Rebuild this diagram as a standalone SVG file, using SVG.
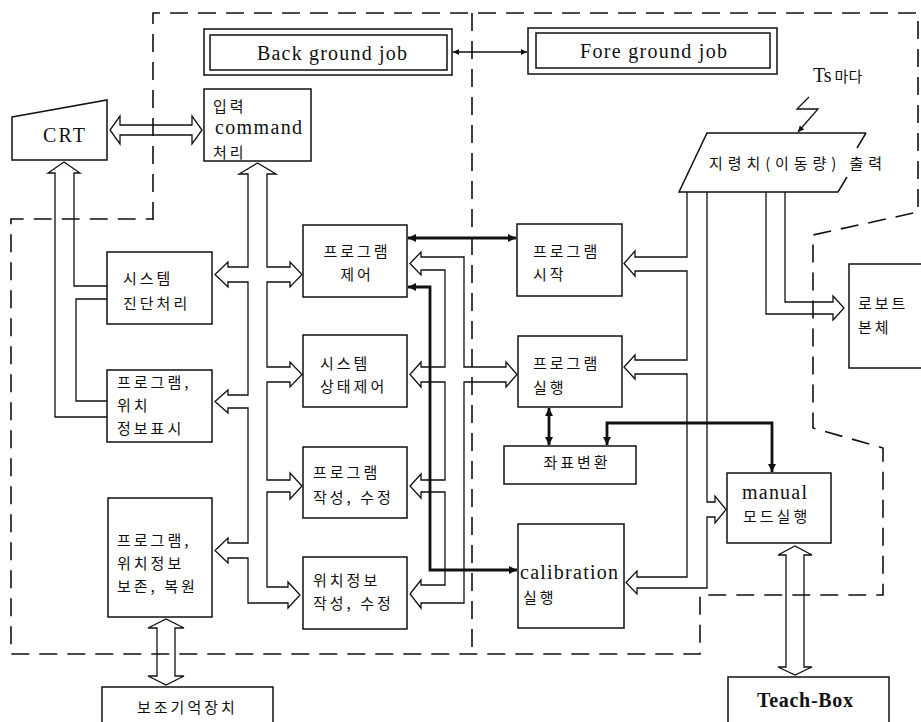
<svg xmlns="http://www.w3.org/2000/svg" width="921" height="722" viewBox="0 0 921 722">
<defs>
<style>
.box{fill:#fff;stroke:#111;stroke-width:1.5}
.nf{fill:none;stroke:#111;stroke-width:1.5}
.pipe{fill:none;stroke:#111;stroke-width:1.3}
.thick{fill:none;stroke:#111;stroke-width:2.8}
.thin{fill:none;stroke:#111;stroke-width:1.3}
.dash{fill:none;stroke:#111;stroke-width:1.6;stroke-dasharray:18 10}
.kr{font-family:"Noto Sans CJK KR",sans-serif;font-size:15px;letter-spacing:3px;fill:#111}
.en{font-family:"Liberation Serif","Noto Sans CJK KR",serif;font-size:20px;fill:#111}
.enb{font-family:"Liberation Serif",serif;font-size:20px;font-weight:bold;fill:#111}
</style>
<marker id="ah" viewBox="0 0 10 10" refX="10" refY="5" markerWidth="11" markerHeight="8" markerUnits="userSpaceOnUse" orient="auto-start-reverse"><path d="M0,0 L10,5 L0,10 Z" fill="#111"/></marker>
<marker id="as" viewBox="0 0 10 10" refX="10" refY="5" markerWidth="8" markerHeight="6" markerUnits="userSpaceOnUse" orient="auto-start-reverse"><path d="M0,0 L10,5 L0,10 Z" fill="#111"/></marker>
</defs>
<rect width="921" height="722" fill="#fff"/>

<g id="regions">
<path class="dash" d="M153,220 V13 H918 V212 L813,235 V428 L883,448 V595 H700 V654 H11 V219 H153"/>
<path class="dash" d="M472,13 V654"/>
</g>

<g id="connectors">
<path class="pipe" d="M276,174 L257.5,163 L239,174 H248 V267 H228 L228,262 L215,274.5 L228,287 V282 H248 V395 H228 L228,390 L215,401.5 L228,413 V408 H248 V543 H228 L228,538 L215,550.5 L228,563 V558 H248 V603 H288 L288,608 L300,595 L288,582 V587 H267 V492 H290 L290,499 L302,486 L290,473 V480 H267 V382 H290 L290,387 L302,374.5 L290,362 V367 H267 V282 H290 L290,287 L302,274.5 L290,262 V267 H267 V174 Z"/>
<path class="pipe" d="M445,270 V367 H421 L421,362 L410,374.5 L421,387 V382 H445 V480 H421 L421,474 L410,486 L421,498 V492 H445 V585 H421 L421,580 L410,594 L421,608 V603 H464 V382 H506 L506,387 L517,374.5 L506,362 V367 H464 V257 H421 L421,252 L410,263.5 L421,275 V270 Z"/>
<path class="pipe" d="M687,192 V257 H635 L635,251 L624,263.5 L635,276 V271 H687 V360 H635 L635,355 L624,367 L635,379 V374 H687 V577 H637 L637,571 L626,582.5 L637,594 V588 H707 V517 H715 L715,523 L726,509.5 L715,496 V502 H707 V192"/>
<path class="pipe" d="M766,192 V314 H833 L833,320 L844,308 L833,296 V302 H785 V192"/>
<path class="pipe" d="M107,417 H55 V173 H48 L64,162 L80,173 H74 V286 H107"/>
<path class="pipe" d="M107,299 H76 V401 H107"/>
<path class="pipe" d="M120,125 H192 L192,116 L202,130 L192,144 V135 H120 L120,144 L110,130 L120,116 Z"/>
<path class="pipe" d="M157,628 V676 H148 L166,685 L184,676 H175 V628 H184 L166,619 L148,628 Z"/>
<path class="pipe" d="M786,555 V667 H778 L795,675 L812,667 H804 V555 H812 L795,546 L778,555 Z"/>
<path class="thick" d="M408,238 H516" marker-start="url(#ah)" marker-end="url(#ah)"/>
<path class="thick" d="M408,287 H430 V570 H517" marker-start="url(#ah)" marker-end="url(#ah)"/>
<path class="thick" d="M549,408 V445" marker-start="url(#ah)" marker-end="url(#ah)"/>
<path class="thick" d="M607,445 V423 H772 V472" marker-start="url(#ah)" marker-end="url(#ah)"/>
<path class="thin" d="M453,52 H527" marker-start="url(#as)" marker-end="url(#as)"/>
<path class="thin" d="M809,97 L797,109 L818,109 L798,132" marker-end="url(#as)"/>
</g>

<g id="bgjob">
<rect class="box" x="204" y="29" width="248" height="46"/>
<rect class="nf" x="210" y="35" width="237" height="35"/>
<text class="en" x="257" y="60" textLength="150">Back ground job</text>
</g>
<g id="fgjob">
<rect class="box" x="528" y="28" width="249" height="46"/>
<rect class="nf" x="536" y="33" width="234" height="35"/>
<text class="en" x="580" y="58" textLength="147">Fore ground job</text>
</g>

<g id="crt">
<path class="box" d="M12,117 L107,100 V160 H12 Z"/>
<text class="en" x="43" y="142" textLength="42">CRT</text>
</g>

<g id="input">
<rect class="box" x="204" y="89" width="107" height="72"/>
<text class="kr" x="213" y="112">입력</text>
<text class="en" x="215" y="134" textLength="87">command</text>
<text class="kr" x="213" y="158">처리</text>
</g>

<g id="diag">
<rect class="box" x="107" y="252" width="105" height="72"/>
<text class="kr" x="123" y="284">시스템</text>
<text class="kr" x="123" y="309">진단처리</text>
</g>

<g id="display">
<rect class="box" x="107" y="370" width="105" height="72"/>
<text class="kr" x="117" y="388">프로그램,</text>
<text class="kr" x="117" y="411">위치</text>
<text class="kr" x="117" y="434">정보표시</text>
</g>

<g id="save">
<rect class="box" x="108" y="498" width="104" height="119"/>
<text class="kr" x="117" y="546">프로그램,</text>
<text class="kr" x="117" y="569">위치정보</text>
<text class="kr" x="117" y="592">보존, 복원</text>
</g>

<g id="aux">
<rect class="box" x="102" y="687" width="171" height="45"/>
<text class="kr" x="137" y="713">보조기억장치</text>
</g>

<g id="progctl">
<rect class="box" x="303" y="225" width="104" height="72"/>
<text class="kr" x="357" y="257" text-anchor="middle">프로그램</text>
<text class="kr" x="357" y="280" text-anchor="middle">제어</text>
</g>

<g id="sysctl">
<rect class="box" x="303" y="335" width="104" height="72"/>
<text class="kr" x="320" y="369">시스템</text>
<text class="kr" x="320" y="392">상태제어</text>
</g>

<g id="progedit">
<rect class="box" x="303" y="447" width="104" height="71"/>
<text class="kr" x="313" y="478">프로그램</text>
<text class="kr" x="313" y="503">작성, 수정</text>
</g>

<g id="posedit">
<rect class="box" x="303" y="557" width="104" height="72"/>
<text class="kr" x="313" y="586">위치정보</text>
<text class="kr" x="313" y="609">작성, 수정</text>
</g>

<g id="progstart">
<rect class="box" x="517" y="224" width="105" height="72"/>
<text class="kr" x="533" y="257">프로그램</text>
<text class="kr" x="533" y="280">시작</text>
</g>

<g id="progrun">
<rect class="box" x="518" y="336" width="104" height="71"/>
<text class="kr" x="533" y="369">프로그램</text>
<text class="kr" x="533" y="393">실행</text>
</g>

<g id="coord">
<rect class="box" x="504" y="446" width="132" height="38"/>
<text class="kr" x="577" y="468" text-anchor="middle">좌표변환</text>
</g>

<g id="calib">
<rect class="box" x="518" y="524" width="106" height="104"/>
<text class="en" x="520" y="579" textLength="98">calibration</text>
<text class="kr" x="523" y="603">실행</text>
</g>

<g id="manual">
<rect class="box" x="727" y="473" width="104" height="70"/>
<text class="en" x="742" y="499" textLength="65">manual</text>
<text class="kr" x="743" y="522">모드실행</text>
</g>

<g id="teach">
<rect class="box" x="728" y="677" width="161" height="55"/>
<text class="enb" x="757" y="707" textLength="96">Teach-Box</text>
</g>

<g id="robot">
<rect class="box" x="849" y="264" width="82" height="104"/>
<text class="kr" x="858" y="309">로보트</text>
<text class="kr" x="858" y="333">본체</text>
</g>

<g id="output">
<path class="nf" d="M866,133 L857,148 M847,177 L838,192 H679 L707,133 H866"/>
<text class="kr" x="709" y="169" textLength="176">지령치(이동량) 출력</text>
</g>

<g id="ts">
<text class="en" x="813" y="82">Ts<tspan font-family="Noto Sans CJK KR, sans-serif" font-size="15" dx="3">마다</tspan></text>
</g>
</svg>
